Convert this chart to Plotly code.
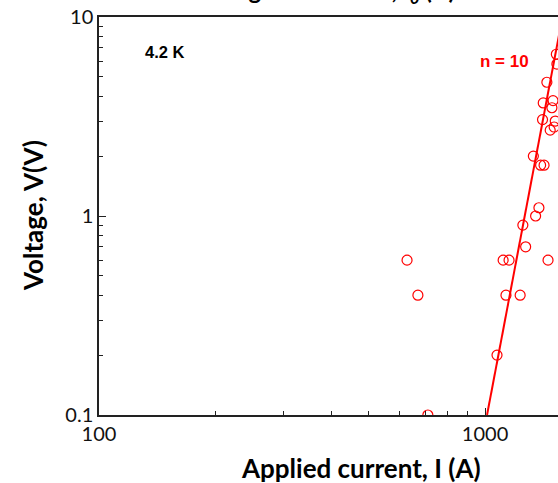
import plotly.graph_objects as go

# Measured data: applied current (A) vs voltage (V) at 4.2 K
current = [628, 670, 711, 1074, 1114, 1154, 1133, 1233, 1274, 1253, 1352, 1379, 1456,
           1334, 1393, 1422, 1409, 1415, 1446, 1530, 1535, 1490, 1500, 1520, 1475, 1510]
voltage = [0.6, 0.4, 0.1, 0.2, 0.6, 0.6, 0.4, 0.4, 0.7, 0.9, 1.0, 1.1, 0.6,
           2.0, 1.8, 1.8, 3.05, 3.7, 4.7, 6.5, 5.8, 3.5, 3.8, 3.0, 2.7, 2.8]

# Power-law fit line (n = 10)
fit_current = [1012, 1600]
fit_voltage = [0.1, 10.9]

x_ticks = [100, 1000]
x_ticktext = ["100", "1000"]
y_ticks = [0.1, 1, 10]
y_ticktext = ["0.1", "1", "10"]
x_minor = [200, 300, 400, 500, 600, 700, 800, 900, 2000, 3000]
y_minor = [0.2, 0.3, 0.4, 0.5, 0.6, 0.7, 0.8, 0.9, 2, 3, 4, 5, 6, 7, 8, 9]

RED = "#ff0000"
AX = "#222222"

fig = go.Figure()
fig.add_trace(go.Scatter(
    x=fit_current, y=fit_voltage, mode="lines",
    line=dict(color=RED, width=2), showlegend=False, hoverinfo="skip"))
fig.add_trace(go.Scatter(
    x=current, y=voltage, mode="markers",
    marker=dict(symbol="circle-open", size=10, color=RED, line=dict(width=1.2, color=RED)),
    showlegend=False))

fig.update_layout(
    width=558, height=483,
    margin=dict(l=99, r=0, t=17, b=68),
    paper_bgcolor="white", plot_bgcolor="white",
    font=dict(family="Lato, Carlito, sans-serif", size=20, color="black"),
    xaxis=dict(
        type="log", range=[2, 3.189],
        tickvals=x_ticks, ticktext=x_ticktext,
        ticks="inside", ticklen=7, tickwidth=1.2, tickcolor=AX,
        showline=True, linecolor=AX, linewidth=1.5, mirror=True,
        showgrid=False, zeroline=False,
        tickfont=dict(size=20, family="Lato, sans-serif", color="#111111"),
        minor=dict(tickvals=x_minor, ticks="inside", ticklen=4, tickwidth=1.2, tickcolor=AX, showgrid=False),
    ),
    yaxis=dict(
        type="log", range=[-1, 1],
        tickvals=y_ticks, ticktext=y_ticktext,
        ticks="inside", ticklen=7, tickwidth=1.2, tickcolor=AX,
        showline=True, linecolor=AX, linewidth=1.5, mirror=False,
        showgrid=False, zeroline=False,
        tickfont=dict(size=20, family="Lato, sans-serif", color="#111111"),
        minor=dict(tickvals=y_minor, ticks="inside", ticklen=4, tickwidth=1.2, tickcolor=AX, showgrid=False),
    ),
    annotations=[
        dict(text="<b>Applied current, I (A)</b>", xref="paper", yref="paper",
             x=(361 - 99) / 459, y=0, yshift=-53, xanchor="center", yanchor="middle",
             showarrow=False, font=dict(size=26, family="Lato, sans-serif", color="black")),
        dict(text="<b>Voltage, V(V)</b>", xref="paper", yref="paper",
             x=0, xshift=-66, y=0.5, textangle=-90, xanchor="center", yanchor="middle",
             showarrow=False, font=dict(size=26, family="Lato, sans-serif", color="black")),
        dict(text="<b>4.2 K</b>", xref="paper", yref="paper",
             x=(165 - 99) / 459, y=1, yshift=-35, xanchor="center", yanchor="middle",
             showarrow=False, font=dict(size=16.5, family="Liberation Sans, Arial, sans-serif", color="black")),
        dict(text="<b>n = 10</b>", xref="paper", yref="paper",
             x=(504 - 99) / 459, y=1, yshift=-44, xanchor="center", yanchor="middle",
             showarrow=False, font=dict(size=17, family="Liberation Sans, Arial, sans-serif", color=RED)),
        dict(text="<b>Voltage vs. current, <i>I</i><sub><i>0</i></sub> (A)</b>", xref="paper", yref="paper",
             x=(190 - 99) / 459, y=1, yshift=7, xanchor="left", yanchor="bottom",
             showarrow=False, font=dict(size=24, family="Lato, sans-serif", color="black")),
    ],
)

fig.write_html(
    "out.html",
    config={"displayModeBar": False},
    post_script="document.body.style.margin='0';document.body.style.overflow='hidden';",
)
